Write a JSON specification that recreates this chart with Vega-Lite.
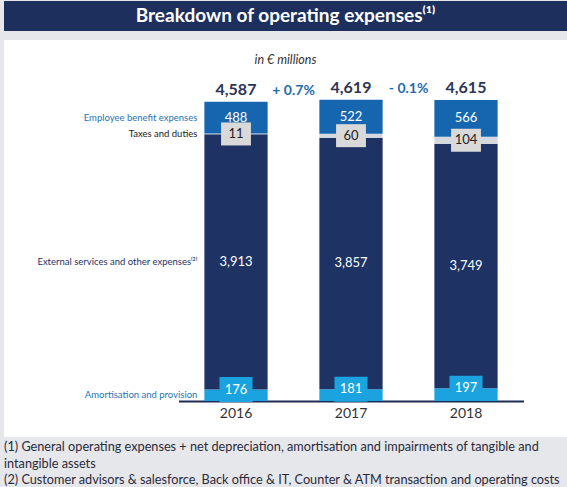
{
  "$schema": "https://vega.github.io/schema/vega-lite/v6.json",
  "background": "#e6e7eb",
  "padding": {"left": 4, "top": 1, "right": 0, "bottom": 0},
  "config": {
    "font": "Lato",
    "view": {"stroke": null},
    "concat": {"spacing": 9}
  },
  "title": {
    "text": [
      "(1) General operating expenses + net depreciation, amortisation and impairments of tangible and",
      "intangible assets",
      "(2) Customer advisors & salesforce, Back office & IT, Counter & ATM transaction and operating costs"
    ],
    "orient": "bottom",
    "anchor": "start",
    "offset": 4,
    "font": "Lato",
    "fontSize": 12.7,
    "fontWeight": "normal",
    "lineHeight": 16.5,
    "color": "#2a2a3a"
  },
  "datasets": {
    "costs": [
      {"year": "2016", "category": "Amortisation and provision", "value": 176, "order": 1},
      {"year": "2016", "category": "External services and other expenses⁽²⁾", "value": 3913, "order": 2},
      {"year": "2016", "category": "Taxes and duties", "value": 11, "order": 3},
      {"year": "2016", "category": "Employee benefit expenses", "value": 488, "order": 4},
      {"year": "2017", "category": "Amortisation and provision", "value": 181, "order": 1},
      {"year": "2017", "category": "External services and other expenses⁽²⁾", "value": 3857, "order": 2},
      {"year": "2017", "category": "Taxes and duties", "value": 60, "order": 3},
      {"year": "2017", "category": "Employee benefit expenses", "value": 522, "order": 4},
      {"year": "2018", "category": "Amortisation and provision", "value": 197, "order": 1},
      {"year": "2018", "category": "External services and other expenses⁽²⁾", "value": 3749, "order": 2},
      {"year": "2018", "category": "Taxes and duties", "value": 104, "order": 3},
      {"year": "2018", "category": "Employee benefit expenses", "value": 566, "order": 4}
    ],
    "totals": [
      {"year": "2016", "total": 4587, "change": "+ 0.7%"},
      {"year": "2017", "total": 4619, "change": "- 0.1%"},
      {"year": "2018", "total": 4615, "change": ""}
    ]
  },
  "vconcat": [
    {
      "width": 563,
      "height": 30,
      "view": {"fill": "#1d2f5c", "stroke": null},
      "data": {"values": [{"t": "Breakdown of operating expenses⁽¹⁾"}]},
      "mark": {"type": "text", "fontSize": 19, "fontWeight": "bold", "color": "white", "baseline": "middle"},
      "encoding": {"text": {"field": "t"}}
    },
    {
      "width": 563,
      "height": 397,
      "view": {"fill": "white", "stroke": null},
      "title": {
        "text": "in € millions",
        "fontStyle": "italic",
        "fontWeight": "normal",
        "fontSize": 12.5,
        "color": "#333333",
        "offset": -26,
        "anchor": "middle"
      },
      "encoding": {
        "x": {
          "field": "year",
          "type": "nominal",
          "scale": {"domain": ["2016", "2017", "2018"], "range": [174.5, 519.5], "paddingInner": 0.45, "paddingOuter": 0.225},
          "axis": {
            "title": null,
            "orient": "bottom",
            "offset": -36,
            "domainColor": "#1e2c55",
            "domainWidth": 2,
            "ticks": false,
            "labelAngle": 0,
            "labelFontSize": 14,
            "labelColor": "#333333",
            "labelPadding": 5
          }
        }
      },
      "layer": [
        {
          "data": {"name": "costs"},
          "mark": {"type": "bar"},
          "encoding": {
            "y": {
              "field": "value",
              "type": "quantitative",
              "stack": "zero",
              "scale": {"domain": [0, 4615], "range": [361, 60], "nice": false},
              "axis": null
            },
            "order": {"field": "order", "type": "quantitative"},
            "color": {
              "field": "category",
              "type": "nominal",
              "legend": null,
              "scale": {
                "domain": ["Amortisation and provision", "External services and other expenses⁽²⁾", "Taxes and duties", "Employee benefit expenses"],
                "range": ["#1aa3de", "#1e3264", "#d6d8e0", "#1566ae"]
              }
            }
          }
        },
        {
          "data": {"name": "costs"},
          "transform": [
            {"stack": "value", "groupby": ["year"], "sort": [{"field": "order"}], "as": ["v0", "v1"]},
            {"fold": ["v0", "v1"], "as": ["edge", "pos"]},
            {"aggregate": [{"op": "mean", "field": "pos", "as": "mid"}, {"op": "max", "field": "pos", "as": "top"}], "groupby": ["year", "category", "value", "order"]}
          ],
          "layer": [
            {
              "transform": [{"filter": "datum.category === 'Taxes and duties'"}],
              "mark": {"type": "point", "shape": "M-1.3,-1H1.3V1H-1.3Z", "filled": true, "size": 529, "opacity": 1, "color": "#d9d9d9", "strokeWidth": 0},
              "encoding": {"y": {"field": "mid", "type": "quantitative"}}
            },
            {
              "transform": [{"filter": "datum.category === 'Taxes and duties'"}],
              "mark": {"type": "text", "fontSize": 13, "color": "#222222"},
              "encoding": {"y": {"field": "mid", "type": "quantitative"}, "text": {"field": "value", "format": ","}}
            },
            {
              "transform": [{"filter": "datum.category === 'Amortisation and provision'"}],
              "mark": {"type": "point", "shape": "M-1.32,-1H1.32V1H-1.32Z", "filled": true, "size": 625, "opacity": 1, "color": "#1aa3de", "strokeWidth": 0},
              "encoding": {"y": {"field": "top", "type": "quantitative"}}
            },
            {
              "transform": [{"filter": "datum.category === 'Amortisation and provision'"}],
              "mark": {"type": "text", "fontSize": 13, "color": "white"},
              "encoding": {"y": {"field": "top", "type": "quantitative"}, "text": {"field": "value", "format": ","}}
            },
            {
              "transform": [{"filter": "datum.category === 'Employee benefit expenses' || datum.category === 'External services and other expenses⁽²⁾'"}],
              "mark": {"type": "text", "fontSize": 13, "color": "white"},
              "encoding": {"y": {"field": "mid", "type": "quantitative"}, "text": {"field": "value", "format": ","}}
            },
            {
              "transform": [{"filter": "datum.year === '2016'"}],
              "mark": {"type": "text", "fontSize": 9.5, "align": "right", "dx": -7},
              "encoding": {
                "x": {"field": "year", "type": "nominal", "bandPosition": 0},
                "y": {"field": "mid", "type": "quantitative"},
                "text": {"field": "category"},
                "color": {
                  "condition": [
                    {"test": "datum.category === 'Taxes and duties'", "value": "#1a1a1a"},
                    {"test": "datum.category === 'External services and other expenses⁽²⁾'", "value": "#1e3264"}
                  ],
                  "value": "#1f74b5"
                }
              }
            }
          ]
        },
        {
          "data": {"name": "totals"},
          "mark": {"type": "text", "fontSize": 16, "fontWeight": "bold", "color": "#2b3556", "baseline": "bottom", "dy": -4},
          "encoding": {
            "y": {"field": "total", "type": "quantitative"},
            "text": {"field": "total", "format": ","}
          }
        },
        {
          "data": {"name": "totals"},
          "transform": [{"filter": "datum.change !== ''"}],
          "mark": {"type": "text", "fontSize": 14, "fontWeight": "bold", "color": "#1f6cae", "baseline": "bottom", "dy": -4, "dx": 26},
          "encoding": {
            "x": {"field": "year", "type": "nominal", "bandPosition": 1},
            "y": {"field": "total", "type": "quantitative"},
            "text": {"field": "change"}
          }
        }
      ]
    }
  ]
}
